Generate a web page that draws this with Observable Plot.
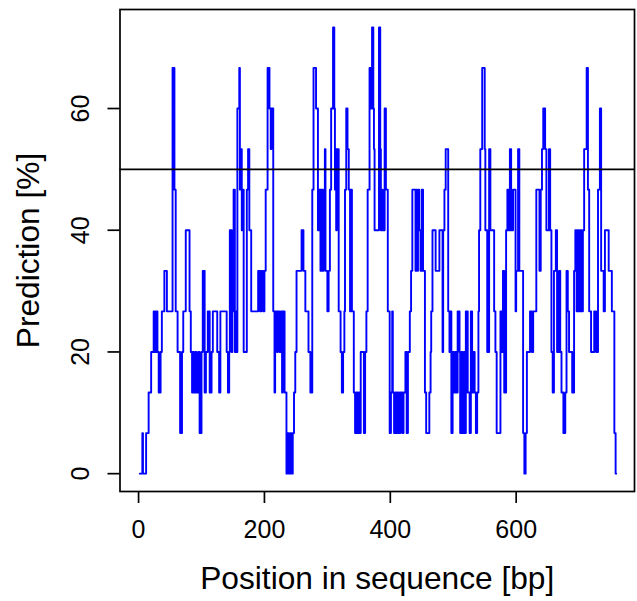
<!DOCTYPE html>
<html><head><meta charset="utf-8">
<script src="https://cdn.jsdelivr.net/npm/d3@7"></script>
<script src="https://cdn.jsdelivr.net/npm/@observablehq/plot@0.6"></script>
<style>body{margin:0;background:#fff;}</style>
</head><body><div id="chart"></div>
<script>
// Positions (bp) where the prediction changes, and the prediction (%) from that point on
const positions = [2,6,7,12,16,20,24,26,28,30,32,35,37,41,45,54,57,59,62,66,69,71,75,81,83,85,86,88,90,92,95,97,100,102,105,107,110,113,116,118,125,128,130,140,142,144,145,148,149,151,153,154,155,157,160,161,162,164,165,167,172,174,176,179,190,193,195,198,200,202,205,208,210,211,214,216,217,220,221,224,226,228,229,232,235,237,239,241,243,245,247,249,251,259,262,265,270,273,276,278,282,285,287,289,290,292,294,296,297,300,302,304,306,309,311,312,313,314,315,318,321,323,325,327,328,330,332,334,336,337,339,342,344,346,348,350,352,353,358,360,362,364,367,369,371,373,374,375,382,384,385,386,388,391,393,396,399,401,403,404,406,408,410,412,414,416,419,421,424,426,428,431,433,435,440,441,442,444,446,448,450,452,455,457,462,464,465,467,472,478,483,484,486,488,492,494,495,497,499,501,503,505,507,510,511,513,515,517,519,520,523,526,528,530,532,534,536,538,540,541,543,546,550,551,554,557,559,565,567,569,575,577,579,581,584,586,588,590,592,595,599,600,603,605,611,613,615,617,622,625,627,632,637,639,641,643,646,648,652,654,656,658,660,663,665,668,670,672,675,678,680,682,684,689,692,694,696,698,700,702,704,706,708,712,714,716,719,724,727,730,733,735,739,741,747,752,756,758,759];
const predictions = [0,6.67,0,6.67,13.33,20,26.67,20,26.67,20,13.33,20,26.67,33.33,26.67,66.67,46.67,26.67,20,6.67,20,26.67,40,26.67,20,13.33,20,13.33,20,13.33,20,6.67,20,33.33,13.33,20,26.67,13.33,20,26.67,20,13.33,26.67,20,13.33,20,40,20,26.67,46.67,20,26.67,20,60,66.67,46.67,53.33,40,46.67,20,46.67,53.33,40,26.67,33.33,26.67,33.33,26.67,33.33,46.67,66.67,60,53.33,60,26.67,13.33,26.67,20,26.67,20,26.67,13.33,26.67,13.33,0,6.67,0,6.67,0,6.67,13.33,20,33.33,40,33.33,26.67,20,13.33,46.67,66.67,60,40,46.67,33.33,46.67,33.33,46.67,53.33,33.33,26.67,33.33,46.67,60,73.33,60,46.67,53.33,40,53.33,26.67,20,13.33,20,26.67,46.67,60,53.33,46.67,26.67,46.67,26.67,13.33,6.67,13.33,6.67,13.33,6.67,20,6.67,20,26.67,46.67,66.67,60,73.33,60,53.33,40,73.33,53.33,40,46.67,40,60,46.67,26.67,6.67,13.33,26.67,13.33,6.67,13.33,6.67,13.33,6.67,13.33,6.67,13.33,20,6.67,20,26.67,33.33,46.67,33.33,46.67,33.33,46.67,40,33.33,46.67,33.33,13.33,6.67,13.33,20,26.67,40,33.33,40,20,40,46.67,53.33,26.67,20,26.67,6.67,20,13.33,20,13.33,26.67,20,6.67,20,6.67,20,6.67,26.67,13.33,6.67,26.67,13.33,20,13.33,6.67,13.33,26.67,40,53.33,66.67,53.33,40,20,53.33,40,26.67,20,6.67,26.67,20,33.33,13.33,40,46.67,40,53.33,40,46.67,26.67,33.33,53.33,33.33,6.67,0,6.67,20,26.67,20,26.67,46.67,33.33,46.67,53.33,60,53.33,40,53.33,40,20,13.33,33.33,40,20,33.33,20,13.33,6.67,13.33,33.33,26.67,20,13.33,33.33,40,26.67,40,26.67,40,26.67,40,53.33,66.67,46.67,26.67,20,26.67,20,46.67,60,33.33,26.67,40,33.33,26.67,6.67,0,0];
const xTicks = [0, 200, 400, 600];
const yTicks = [0, 20, 40, 60];
const threshold = 50;
const xLabel = "Position in sequence [bp]";
const yLabel = "Prediction [%]";

const data = positions.map((p, i) => ({pos: p, pred: predictions[i]}));
const font = "'Liberation Sans', Arial, Helvetica, sans-serif";

const chart = Plot.plot({
  width: 637, height: 601,
  marginLeft: 119.5, marginRight: 3, marginTop: 9, marginBottom: 110,
  x: {domain: [-29.5, 788], axis: null},
  y: {domain: [-2.93, 76.27], axis: null},
  style: {fontFamily: font, background: "white", color: "black"},
  marks: [
    Plot.line(data, {x: "pos", y: "pred", curve: "step-after", stroke: "#0000ff", strokeWidth: 1.9}),
    Plot.ruleY([threshold], {stroke: "black", strokeWidth: 1.6}),
    Plot.frame({stroke: "black", strokeWidth: 1.7}),
    Plot.axisX({ticks: xTicks, tickSize: 12, tickPadding: 17, fontSize: 25, strokeWidth: 1.7, label: null}),
    Plot.axisY({ticks: yTicks, tickSize: 12, tickFormat: () => "", strokeWidth: 1.7, label: null}),
    Plot.text(yTicks, {y: d => d, text: d => String(d), frameAnchor: "left", dx: -39.5, rotate: -90, textAnchor: "middle", lineAnchor: "middle", fontSize: 25, fill: "black"}),
    Plot.text([xLabel], {text: d => d, frameAnchor: "bottom", dy: 87, lineAnchor: "middle", fontSize: 31.7, fill: "black"}),
    Plot.text([yLabel], {text: d => d, frameAnchor: "left", dx: -91.5, rotate: -90, textAnchor: "middle", lineAnchor: "middle", fontSize: 31.7, fill: "black"})
  ]
});
document.getElementById("chart").appendChild(chart);
</script>
</body></html>
